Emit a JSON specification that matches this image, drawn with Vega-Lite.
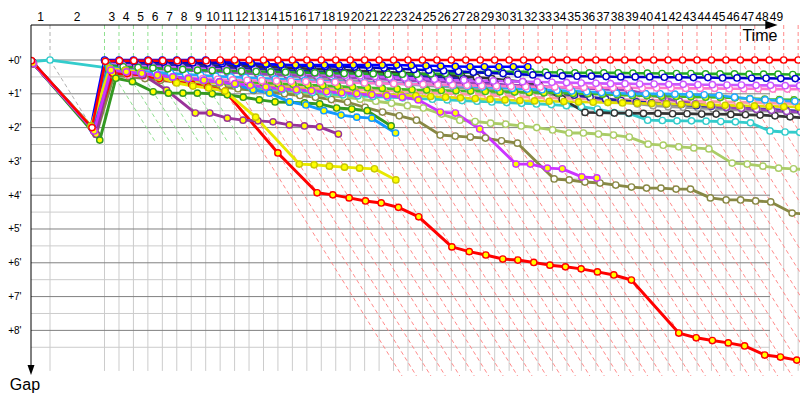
{
"$schema": "https://vega.github.io/schema/vega-lite/v6.json",
"width": 769, "height": 351,
"autosize": {"type": "none"},
"padding": {"left": 31, "top": 25, "right": 0, "bottom": 24},
"background": "white",
"config": {"view": {"stroke": null}, "font": "Liberation Sans"},
"datasets": {
"hmaj": [{"g":0},{"g":1},{"g":2},{"g":3},{"g":4},{"g":5},{"g":6},{"g":7},{"g":8}],
"hmin": [{"g":0.5},{"g":1.5},{"g":2.5},{"g":3.5},{"g":4.5},{"g":5.5},{"g":6.5},{"g":7.5},{"g":8.5}],
"laps": [
{"lap":0,"T":0,"k":"z","g":[0,0]},
{"lap":1,"T":0.905,"k":"s","g":[0,2.4]},{"lap":2,"T":3.5,"k":"e","g":[0,2.4]},{"lap":3,"T":4.19,"k":"e","g":[0,2.4]},{"lap":4,"T":4.878,"k":"e","g":[0,2.4]},{"lap":5,"T":5.566,"k":"e","g":[0,2.4]},{"lap":6,"T":6.254,"k":"e","g":[0,2.4]},{"lap":7,"T":6.942,"k":"e","g":[0,2.4]},{"lap":8,"T":7.631,"k":"e","g":[0,2.4]},
{"lap":9,"T":8.319,"k":"r","g":[0,9.35]},{"lap":10,"T":9.007,"k":"r","g":[0,9.35]},{"lap":11,"T":9.695,"k":"r","g":[0,9.35]},{"lap":12,"T":10.383,"k":"r","g":[0,9.35]},{"lap":13,"T":11.071,"k":"r","g":[0,9.35]},{"lap":14,"T":11.759,"k":"r","g":[0,9.35]},{"lap":15,"T":12.447,"k":"r","g":[0,9.35]},{"lap":16,"T":13.136,"k":"r","g":[0,9.35]},{"lap":17,"T":13.824,"k":"r","g":[0,9.35]},{"lap":18,"T":14.512,"k":"r","g":[0,9.35]},{"lap":19,"T":15.2,"k":"r","g":[0,9.35]},{"lap":20,"T":15.888,"k":"r","g":[0,9.35]},
{"lap":21,"T":16.576,"k":"r","g":[0,9.35]},{"lap":22,"T":17.264,"k":"r","g":[0,9.35]},{"lap":23,"T":17.952,"k":"r","g":[0,9.35]},{"lap":24,"T":18.641,"k":"r","g":[0,9.35]},{"lap":25,"T":19.329,"k":"r","g":[0,9.35]},{"lap":26,"T":20.017,"k":"r","g":[0,9.35]},{"lap":27,"T":20.705,"k":"r","g":[0,9.35]},{"lap":28,"T":21.393,"k":"r","g":[0,9.35]},{"lap":29,"T":22.081,"k":"r","g":[0,9.35]},{"lap":30,"T":22.769,"k":"r","g":[0,9.35]},
{"lap":31,"T":23.457,"k":"r","g":[0,9.35]},{"lap":32,"T":24.146,"k":"r","g":[0,9.35]},{"lap":33,"T":24.834,"k":"r","g":[0,9.35]},{"lap":34,"T":25.522,"k":"r","g":[0,9.35]},{"lap":35,"T":26.21,"k":"r","g":[0,9.35]},{"lap":36,"T":26.898,"k":"r","g":[0,9.35]},{"lap":37,"T":27.586,"k":"r","g":[0,9.35]},{"lap":38,"T":28.274,"k":"r","g":[0,9.35]},{"lap":39,"T":28.962,"k":"r","g":[0,9.35]},{"lap":40,"T":29.651,"k":"r","g":[0,9.35]},
{"lap":41,"T":30.339,"k":"r","g":[0,9.35]},{"lap":42,"T":31.027,"k":"r","g":[0,9.35]},{"lap":43,"T":31.715,"k":"r","g":[0,9.35]},{"lap":44,"T":32.403,"k":"r","g":[0,9.35]},{"lap":45,"T":33.091,"k":"r","g":[0,9.35]},{"lap":46,"T":33.779,"k":"r","g":[0,9.35]},{"lap":47,"T":34.467,"k":"r","g":[0,9.35]},{"lap":48,"T":35.156,"k":"r","g":[0,9.35]},{"lap":49,"T":35.844,"k":"r","g":[0,9.35]},{"lap":50,"T":36.532,"k":"r","g":[0,9.35]}
],
"labels": [{"t":["1","2","3","4","5","6","7","8","9","10","11","12","13","14","15","16","17","18","19","20","21","22","23","24","25","26","27","28","29","30","31","32","33","34","35","36","37","38","39","40","41","42","43","44","45","46","47","48","49"],
"p":[0.452,2.2,3.845,4.534,5.222,5.91,6.598,7.287,7.975,8.663,9.351,10.039,10.727,11.415,12.103,12.792,13.48,14.168,14.856,15.544,16.232,16.92,17.608,18.297,18.985,19.673,20.361,21.049,21.737,22.425,23.113,23.802,24.49,25.178,25.866,26.554,27.242,27.93,28.618,29.307,29.995,30.683,31.371,32.059,32.747,33.435,34.123,34.812,35.5]}],
"series": [
{"s":"M","lap":[0,1,2,3,4,5,6,7,8,9,10,11,12,13,14,15,16,17,18,19,20,21,22,23,24,25,26,27,28,29,30,31,32,33,34,35,36,37,38,39,40,41,42,43,44,45,46,47,48,49,50],
"g":[0.1,2.1,0.1,0.15,0.18,0.21,0.24,0.27,0.3,0.33,0.36,0.39,0.42,0.45,0.48,0.51,0.54,0.57,0.6,0.63,0.66,0.69,0.72,0.75,0.78,0.81,0.84,0.87,0.9,0.93,0.96,1.0,1.05,1.1,1.15,1.2,1.25,1.3,1.35,1.38,1.4,1.42,1.44,1.46,1.48,1.5,1.52,1.54,1.56,1.58,1.6]},
{"s":"W","lap":[0,1,2,3,4,5,6,7,8,9,10,11,12,13,14,15,16,17,18,19,20,21,22,23,24,25,26,27,28,29,30,31,32,33,34,35,36,37,38,39,40,41,42,43,44,45,46,47,48,49,50],
"g":[0.1,2.1,0.4,0.45,0.48,0.51,0.54,0.57,0.6,0.63,0.66,0.69,0.72,0.75,0.78,0.8,0.82,0.84,0.86,0.88,0.9,0.92,0.94,0.96,0.98,1.0,1.02,1.04,1.06,1.08,1.1,1.12,1.13,1.14,1.15,1.16,1.17,1.18,1.19,1.2,1.21,1.22,1.23,1.24,1.25,1.26,1.27,1.28,1.29,1.3,1.31]},
{"s":"O","lap":[0,1,2,3,4,5,6,7,8,9,10,11,12,13,14,15,16,17,18,19,20,21,22,23,24,25,26,27,28,29,30,31,32,33,34,35,36,37,38,39,40,41,42,43,44,45,46],
"g":[0.1,2.15,0.35,0.4,0.45,0.5,0.55,0.6,0.65,0.7,0.78,0.84,0.9,0.94,0.98,1.02,1.06,1.1,1.16,1.22,1.28,1.35,1.42,1.6,1.78,1.82,1.87,1.9,1.95,2.0,2.07,2.16,2.16,2.19,2.22,2.28,2.49,2.52,2.57,2.6,2.63,3.05,3.08,3.14,3.2,3.22,3.25]},
{"s":"P","lap":[0,1,2,3,4,5,6,7,8,9,10,11,12,13,14,15,16,17,18,19,20,21,22,23,24,25,26,27,28,29,30,31,32,33,34,35,36,37,38,39,40,41,42,43,44],
"g":[0.1,2.2,0.45,0.5,0.55,0.6,0.65,0.7,0.75,0.8,0.85,0.9,0.95,1.0,1.05,1.1,1.17,1.25,1.4,1.54,1.65,1.78,2.22,2.25,2.28,2.31,2.39,2.46,3.52,3.55,3.61,3.64,3.7,3.76,3.79,3.79,3.82,3.82,4.08,4.14,4.14,4.17,4.2,4.53,4.56]},
{"s":"N","lap":[0,1,2,3,4,5,6,7,8,9,10,11,12,13,14,15,16,17,18,19,20,21,22,23,24,25,26,27,28,29,30,31,32,33,34,35,36,37,38,39,40,41,42,43,44,45,46,47,48,49,50],
"g":[0.05,0.0,0.24,0.3,0.36,0.42,0.48,0.54,0.6,0.66,0.72,0.78,0.84,0.88,0.92,0.96,1.0,1.03,1.06,1.08,1.1,1.12,1.14,1.16,1.18,1.2,1.22,1.24,1.26,1.28,1.3,1.32,1.35,1.38,1.45,1.56,1.58,1.78,1.79,1.8,1.8,1.81,1.82,1.83,1.86,2.1,2.13,2.14,2.15,2.16,2.17]},
{"s":"L","lap":[0,1,2,3,4,5,6,7,8,9,10,11,12,13,14,15,16,17,18,19,20,21,22,23,24,25,26,27,28,29,30,31,32,33,34,35,36,37,38,39,40,41,42,43,44,45,46,47,48,49,50],
"g":[0.05,2.0,0.05,0.08,0.1,0.12,0.13,0.14,0.15,0.16,0.17,0.18,0.19,0.2,0.22,0.24,0.26,0.28,0.3,0.32,0.34,0.36,0.38,0.4,0.42,0.45,0.48,0.51,0.55,0.6,0.65,0.75,1.15,1.55,1.56,1.57,1.57,1.58,1.58,1.59,1.59,1.6,1.6,1.61,1.62,1.63,1.65,1.68,1.72,1.77,1.83]},
{"s":"K","lap":[0,1,2,3,4,5,6,7,8,9,10,11,12,13,14,15,16,17,18,19,20,21,22,23,24,25,26,27,28,29,30,31,32,33,34,35,36,37,38,39,40,41,42,43,44,45,46,47,48,49,50],
"g":[0.07,2.0,0.05,0.08,0.1,0.12,0.14,0.16,0.18,0.2,0.22,0.24,0.26,0.28,0.3,0.32,0.34,0.36,0.38,0.4,0.42,0.44,0.46,0.48,0.5,0.52,0.56,0.62,0.7,0.78,0.85,0.92,0.98,1.04,1.1,1.15,1.2,1.24,1.27,1.3,1.32,1.35,1.37,1.4,1.42,1.44,1.46,1.49,1.51,1.53,1.55]},
{"s":"J","lap":[0,1,2,3,4,5,6,7,8,9,10,11,12,13,14,15,16,17,18,19,20,21,22,23,24,25,26,27,28,29,30,31,32,33,34,35,36,37,38,39,40,41,42,43,44,45,46,47,48,49,50],
"g":[0.12,2.1,0.2,0.22,0.24,0.26,0.28,0.3,0.32,0.34,0.36,0.38,0.4,0.42,0.44,0.46,0.48,0.5,0.52,0.54,0.56,0.58,0.6,0.62,0.64,0.66,0.68,0.7,0.72,0.74,0.76,0.78,0.8,0.82,0.84,0.86,0.88,0.9,1.0,1.12,1.22,1.3,1.35,1.4,1.43,1.46,1.49,1.52,1.54,1.56,1.58]},
{"s":"I","lap":[0,1,2,3,4,5,6,7,8,9,10,11,12,13,14,15,16,17,18,19,20,21,22,23,24,25,26,27,28,29,30,31,32,33,34,35,36,37,38,39,40,41,42,43,44,45,46,47,48,49,50],
"g":[0.1,2.15,0.35,0.4,0.45,0.5,0.55,0.6,0.64,0.68,0.72,0.75,0.78,0.81,0.84,0.87,0.9,0.93,0.96,0.99,1.02,1.04,1.06,1.08,1.1,1.12,1.14,1.16,1.18,1.2,1.21,1.22,1.23,1.24,1.25,1.26,1.27,1.28,1.29,1.3,1.31,1.32,1.33,1.34,1.35,1.36,1.37,1.38,1.39,1.4,1.41]},
{"s":"H","lap":[0,1,2,3,4,5,6,7,8,9,10,11,12,13,14,15,16,17,18,19,20,21,22,23,24,25,26,27,28,29,30,31,32,33,34,35,36,37,38,39,40,41,42,43,44,45,46,47,48,49,50],
"g":[0.08,2.2,0.3,0.35,0.4,0.45,0.5,0.53,0.56,0.59,0.62,0.65,0.68,0.7,0.72,0.74,0.76,0.78,0.8,0.82,0.84,0.86,0.88,0.89,0.9,0.91,0.92,0.93,0.94,0.95,0.96,0.97,0.98,0.99,1.0,1.01,1.03,1.05,1.06,1.07,1.08,1.09,1.1,1.11,1.12,1.14,1.16,1.17,1.18,1.19,1.2]},
{"s":"G","lap":[0,1,2,3,4,5,6,7,8,9,10,11,12,13,14,15,16,17,18,19,20,21,22,23,24,25,26,27,28,29,30,31,32,33,34,35,36,37,38,39,40,41,42,43,44,45,46,47,48,49,50],
"g":[0.1,2.05,0.25,0.3,0.33,0.36,0.39,0.42,0.45,0.48,0.5,0.52,0.54,0.56,0.58,0.6,0.62,0.64,0.66,0.67,0.68,0.69,0.7,0.72,0.74,0.76,0.78,0.8,0.82,0.84,0.86,0.88,0.9,0.92,0.94,0.96,0.98,1.0,1.0,1.0,1.01,1.02,1.03,1.05,1.1,1.15,1.18,1.2,1.22,1.24,1.25]},
{"s":"F","lap":[0,1,2,3,4,5,6,7,8,9,10,11,12,13,14,15,16,17,18,19,20,21,22,23,24,25,26,27,28,29,30,31,32,33,34,35,36,37,38,39,40,41,42,43,44,45,46,47,48,49,50],
"g":[0.12,2.1,0.3,0.45,0.47,0.49,0.51,0.53,0.55,0.57,0.59,0.6,0.61,0.62,0.63,0.64,0.65,0.66,0.67,0.68,0.69,0.7,0.71,0.72,0.73,0.74,0.75,0.76,0.77,0.78,0.79,0.8,0.8,0.81,0.81,0.82,0.82,0.82,0.83,0.83,0.83,0.84,0.84,0.84,0.85,0.85,0.85,0.86,0.86,0.86,0.87]},
{"s":"E","lap":[0,1,2,3,4,5,6,7,8,9,10,11,12,13,14,15,16,17,18,19,20,21,22,23,24,25,26,27,28,29,30,31,32,33,34,35,36,37,38,39,40,41,42,43,44,45,46,47,48,49,50],
"g":[0.1,2.0,0.1,0.15,0.17,0.19,0.21,0.23,0.25,0.27,0.29,0.31,0.33,0.35,0.37,0.39,0.41,0.43,0.45,0.47,0.49,0.51,0.53,0.55,0.57,0.59,0.6,0.61,0.62,0.63,0.64,0.65,0.66,0.67,0.68,0.69,0.7,0.7,0.71,0.71,0.72,0.72,0.73,0.73,0.74,0.74,0.75,0.75,0.76,0.76,0.77]},
{"s":"D","lap":[0,1,2,3,4,5,6,7,8,9,10,11,12,13,14,15,16,17,18,19,20,21,22,23,24,25,26,27,28,29,30,31,32,33,34,35,36,37,38,39,40,41,42,43,44,45,46,47,48,49,50],
"g":[0.08,2.1,0.15,0.2,0.22,0.24,0.26,0.28,0.3,0.31,0.32,0.33,0.34,0.35,0.36,0.37,0.38,0.39,0.4,0.4,0.41,0.42,0.42,0.42,0.41,0.4,0.38,0.36,0.35,0.35,0.35,0.35,0.36,0.37,0.38,0.38,0.38,0.38,0.39,0.39,0.4,0.4,0.4,0.41,0.41,0.41,0.42,0.42,0.42,0.43,0.43]},
{"s":"C","lap":[0,1,2,3,4,5,6,7,8,9,10,11,12,13,14,15,16,17,18,19,20,21,22,23,24,25,26,27,28,29,30,31,32,33,34,35,36,37,38,39,40,41,42,43,44,45,46,47,48,49,50],
"g":[0.1,2.05,0.02,0.03,0.04,0.05,0.06,0.07,0.08,0.09,0.1,0.11,0.12,0.13,0.14,0.16,0.18,0.19,0.2,0.21,0.22,0.24,0.26,0.28,0.3,0.32,0.34,0.36,0.38,0.4,0.42,0.44,0.46,0.47,0.48,0.48,0.49,0.5,0.5,0.5,0.51,0.51,0.52,0.52,0.53,0.53,0.54,0.54,0.55,0.55,0.56]},
{"s":"B","lap":[0,1,2,3,4,5,6,7,8,9,10,11,12,13,14,15,16,17,18,19,20,21,22,23,24,25,26,27,28,29,30,31],
"g":[0.05,1.95,0,0,0,0,0,0,0,0,0.05,0.08,0.1,0.12,0.14,0.15,0.15,0.15,0.15,0.15,0.15,0.15,0.15,0.16,0.17,0.18,0.19,0.2,0.2,0.2,0.2,0.2]},
{"s":"V","lap":[0,1,2,3,4,5,6,7,8,9,10,11,12,13,14,15,16,17,18,19,20,21,22,23,24,25,26,27,28,29,30,31,32,33,34,35,36,37],
"g":[0.1,2.1,0.39,0.4,0.45,0.55,0.65,0.72,0.8,0.92,2.75,3.93,3.99,4.08,4.17,4.23,4.36,4.64,5.53,5.67,5.77,5.89,5.92,5.99,6.07,6.12,6.18,6.27,6.36,6.51,8.08,8.22,8.3,8.37,8.46,8.73,8.79,8.88]},
{"s":"S","lap":[0,1,2,3,4,5,6,7,8,9,10,11,12,13,14,15],
"g":[0.1,2.2,0.3,0.35,0.44,0.89,1.57,1.57,1.72,1.78,1.8,1.83,1.92,1.95,1.98,2.19]},
{"s":"T","lap":[0,1,2,3,4,5,6,7,8,9,10,11,12,13,14,15,16,17,18,19],
"g":[0.1,2.37,0.54,0.64,0.94,0.98,0.98,0.98,1.0,1.03,1.1,1.18,1.24,1.25,1.27,1.3,1.42,1.45,1.5,1.95]},
{"s":"U","lap":[0,1,2,3,4,5,6,7,8,9,10,11,12,13,14,15,16,17,18,19],
"g":[0.1,2.0,0.2,0.3,0.4,0.45,0.5,0.55,0.6,0.65,0.72,0.88,0.98,1.24,1.33,1.5,1.63,1.69,1.72,2.16]},
{"s":"R","lap":[0,1,2,3,4,5,6,7,8,9,10,11,12,13,14,15,16,17],
"g":[0.1,1.95,0.25,0.3,0.36,0.5,0.68,0.77,0.83,0.92,1.69,3.08,3.1,3.14,3.17,3.2,3.22,3.55]},
{"s":"Q","lap":[0,1,2,3,4,5,6,7,8,9,10,11,12,13,14,15,16,17,18,19,20,21,22,23,24,25,26,27,28,29,30,31],
"g":[0.1,2.1,0.3,0.35,0.4,0.45,0.5,0.55,0.6,0.65,0.7,0.75,0.8,0.85,0.88,0.91,0.94,0.97,1.0,1.03,1.06,1.1,1.18,1.54,1.57,2.04,3.08,3.08,3.2,3.22,3.46,3.49]},
{"s":"A","lap":[0,1,2,3,4,5,6,7,8,9,10,11,12,13,14,15,16,17,18,19,20,21,22,23,24,25,26,27,28,29,30,31,32,33,34,35,36,37,38,39,40,41,42,43,44,45,46,47,48,49,50],
"g":[0.02,2.0,0.04,0.02,0.02,0.02,0.02,0.02,0.02,0.02,0,0,0,0,0,0,0,0,0,0,0,0,0,0,0,0,0,0,0,0,0,0,0,0,0,0,0,0,0,0,0,0,0,0,0,0,0,0,0,0,0]}
]
},
"layer": [
{"data": {"name": "laps"},
 "transform": [{"filter": "datum.k != 'z'"}],
 "mark": {"type": "rule", "color": "#cccccc", "strokeWidth": 1},
 "encoding": {
  "x": {"field": "T", "type": "quantitative", "scale": {"domain": [0, 36.62], "nice": false, "zero": false}, "axis": null},
  "y": {"datum": 0, "type": "quantitative", "scale": {"domain": [-1.036, 9.35], "reverse": true, "nice": false, "zero": false},
   "axis": {"values": [0,1,2,3,4,5,6,7,8], "labelExpr": "'+' + datum.value + \"'\"", "domain": false, "ticks": false, "grid": false, "title": null, "labelFont": "Liberation Sans", "labelFontSize": 10, "labelColor": "#000000", "labelPadding": 10}},
  "y2": {"datum": 9.2}}},
{"data": {"name": "hmin"},
 "mark": {"type": "rule", "color": "#cccccc", "strokeWidth": 1},
 "encoding": {
  "x": {"datum": 0, "type": "quantitative"},
  "x2": {"datum": 35.19},
  "y": {"field": "g", "type": "quantitative"}}},
{"data": {"name": "hmaj"},
 "mark": {"type": "rule", "color": "#808080", "strokeWidth": 1},
 "encoding": {
  "x": {"datum": 0, "type": "quantitative"},
  "x2": {"datum": 35.19},
  "y": {"field": "g", "type": "quantitative"}}},
{"data": {"name": "laps"},
 "transform": [{"filter": "datum.k == 'r'"}],
 "mark": {"type": "rule", "color": "#ff8a8a", "strokeWidth": 1, "strokeDash": [4,3]},
 "encoding": {
  "x": {"field": "T", "type": "quantitative"},
  "y": {"datum": -1.036, "type": "quantitative"},
  "y2": {"datum": 0}}},
{"data": {"name": "laps"},
 "transform": [{"filter": "datum.k == 'e'"}],
 "mark": {"type": "rule", "color": "#90e090", "strokeWidth": 1, "strokeDash": [4,3]},
 "encoding": {
  "x": {"field": "T", "type": "quantitative"},
  "y": {"datum": -1.036, "type": "quantitative"},
  "y2": {"datum": 0}}},
{"data": {"name": "laps"},
 "transform": [{"filter": "datum.k == 's'"}],
 "mark": {"type": "rule", "color": "#b0b0b0", "strokeWidth": 1, "strokeDash": [4,3]},
 "encoding": {
  "x": {"field": "T", "type": "quantitative"},
  "y": {"datum": -1.036, "type": "quantitative"},
  "y2": {"datum": 0}}},
{"data": {"name": "laps"},
 "transform": [{"filter": "datum.k == 'r'"}, {"flatten": ["g"]}, {"fold": ["T", "g"], "as": ["part", "v"]}, {"aggregate": [{"op": "sum", "field": "v", "as": "t"}], "groupby": ["lap", "g"]}],
 "mark": {"type": "line", "color": "#ff8a8a", "strokeWidth": 1, "strokeDash": [4,3], "clip": true},
 "encoding": {
  "x": {"field": "t", "type": "quantitative"},
  "y": {"field": "g", "type": "quantitative"},
  "detail": {"field": "lap", "type": "nominal"}}},
{"data": {"name": "laps"},
 "transform": [{"filter": "datum.k == 'e'"}, {"flatten": ["g"]}, {"fold": ["T", "g"], "as": ["part", "v"]}, {"aggregate": [{"op": "sum", "field": "v", "as": "t"}], "groupby": ["lap", "g"]}],
 "mark": {"type": "line", "color": "#90e090", "strokeWidth": 1, "strokeDash": [4,3], "clip": true},
 "encoding": {
  "x": {"field": "t", "type": "quantitative"},
  "y": {"field": "g", "type": "quantitative"},
  "detail": {"field": "lap", "type": "nominal"}}},
{"data": {"name": "laps"},
 "transform": [{"filter": "datum.k == 's'"}, {"flatten": ["g"]}, {"fold": ["T", "g"], "as": ["part", "v"]}, {"aggregate": [{"op": "sum", "field": "v", "as": "t"}], "groupby": ["lap", "g"]}],
 "mark": {"type": "line", "color": "#b0b0b0", "strokeWidth": 1, "strokeDash": [4,3], "clip": true},
 "encoding": {
  "x": {"field": "t", "type": "quantitative"},
  "y": {"field": "g", "type": "quantitative"},
  "detail": {"field": "lap", "type": "nominal"}}},
{"data": {"name": "series"},
 "transform": [{"flatten": ["lap", "g"]},
  {"lookup": "lap", "from": {"data": {"name": "laps"}, "key": "lap", "fields": ["T"]}},
  {"fold": ["T", "g"], "as": ["part", "v"]},
  {"aggregate": [{"op": "sum", "field": "v", "as": "t"}], "groupby": ["s", "lap", "g"]}],
 "layer": [
 {"mark": {"type": "line", "clip": true, "strokeJoin": "round"},
  "encoding": {
   "x": {"field": "t", "type": "quantitative"},
   "y": {"field": "g", "type": "quantitative"},
   "order": {"field": "lap", "type": "quantitative"},
   "color": {"field": "s", "type": "nominal", "legend": null,
    "scale": {"domain": ["A","B","C","D","E","F","G","H","I","J","K","L","M","N","O","P","Q","R","S","T","U","V","W"],
     "range": ["#ff0000","#0000ff","#0000cc","#22aa22","#cc55ff","#ff77cc","#22aaff","#44bb22","#e0e000","#9944bb","#2222aa","#333333","#999999","#33cccc","#aacc66","#888844","#cc33ff","#e8e800","#993399","#339922","#1199ff","#ff0000","#ff99aa"]}},
   "strokeWidth": {"field": "s", "type": "nominal", "legend": null,
    "scale": {"domain": ["A","B","C","D","E","F","G","H","I","J","K","L","M","N","O","P","Q","R","S","T","U","V","W"],
     "range": [2.5,3,3,2.5,2.5,2.5,2,2,2,2,2,2.5,2,2,2,2,2,2,2,2,2,2,2]}}}},
 {"mark": {"type": "point", "shape": "circle", "filled": true, "size": 40, "strokeWidth": 1.4, "opacity": 1, "clip": true},
  "encoding": {
   "x": {"field": "t", "type": "quantitative"},
   "y": {"field": "g", "type": "quantitative"},
   "stroke": {"field": "s", "type": "nominal", "legend": null,
    "scale": {"domain": ["A","B","C","D","E","F","G","H","I","J","K","L","M","N","O","P","Q","R","S","T","U","V","W"],
     "range": ["#ff0000","#0000ff","#0000cc","#22aa22","#cc55ff","#ff77cc","#22aaff","#44bb22","#c8c800","#9944bb","#2222aa","#333333","#999999","#33cccc","#aacc66","#888844","#cc33ff","#c8c800","#993399","#339922","#1199ff","#ff0000","#ff99aa"]}},
   "fill": {"field": "s", "type": "nominal", "legend": null,
    "scale": {"domain": ["A","B","C","D","E","F","G","H","I","J","K","L","M","N","O","P","Q","R","S","T","U","V","W"],
     "range": ["#ffffff","#ffff00","#ffffff","#ffffff","#ffffff","#ffffff","#ffffff","#ffff00","#ffff00","#ffffff","#ffffff","#ffffff","#ffffff","#ffffff","#ffffff","#ffffff","#ffff00","#ffff00","#ffff00","#ffff00","#ffff00","#ffff00","#ffffff"]}}}}
 ]},
{"data": {"name": "labels"},
 "transform": [{"flatten": ["t", "p"]}],
 "mark": {"type": "text", "font": "Liberation Sans", "fontSize": 12, "color": "#000000", "align": "center", "baseline": "middle"},
 "encoding": {
  "x": {"field": "p", "type": "quantitative"},
  "y": {"datum": -1.27, "type": "quantitative"},
  "text": {"field": "t", "type": "nominal"}}},
{"data": {"values": [{}]},
 "mark": {"type": "rule", "color": "#000000", "strokeWidth": 1},
 "encoding": {
  "x": {"datum": 0, "type": "quantitative"},
  "x2": {"datum": 35.29},
  "y": {"datum": -1.036, "type": "quantitative"}}},
{"data": {"values": [{}]},
 "mark": {"type": "rule", "color": "#000000", "strokeWidth": 1},
 "encoding": {
  "x": {"datum": 0, "type": "quantitative"},
  "y": {"datum": -1.036, "type": "quantitative"},
  "y2": {"datum": 9.15}}},
{"data": {"values": [{}]},
 "mark": {"type": "point", "shape": "M-1,-0.7L1,0L-1,0.7Z", "filled": true, "color": "#000000", "size": 150, "opacity": 1},
 "encoding": {
  "x": {"datum": 35.26, "type": "quantitative"},
  "y": {"datum": -1.036, "type": "quantitative"}}},
{"data": {"values": [{}]},
 "mark": {"type": "point", "shape": "M-0.7,-1L0.7,-1L0,1Z", "filled": true, "color": "#000000", "size": 100, "opacity": 1},
 "encoding": {
  "x": {"datum": 0, "type": "quantitative"},
  "y": {"datum": 9.17, "type": "quantitative"}}},
{"data": {"values": [{}]},
 "mark": {"type": "text", "text": "Time", "font": "Liberation Sans", "fontSize": 16, "color": "#000000", "align": "center", "baseline": "middle"},
 "encoding": {
  "x": {"datum": 34.71, "type": "quantitative"},
  "y": {"datum": -0.71, "type": "quantitative"}}},
{"data": {"values": [{}]},
 "mark": {"type": "text", "text": "Gap", "font": "Liberation Sans", "fontSize": 16, "color": "#000000", "align": "center", "baseline": "middle"},
 "encoding": {
  "x": {"datum": -0.286, "type": "quantitative"},
  "y": {"datum": 9.62, "type": "quantitative"}}}
]
}
